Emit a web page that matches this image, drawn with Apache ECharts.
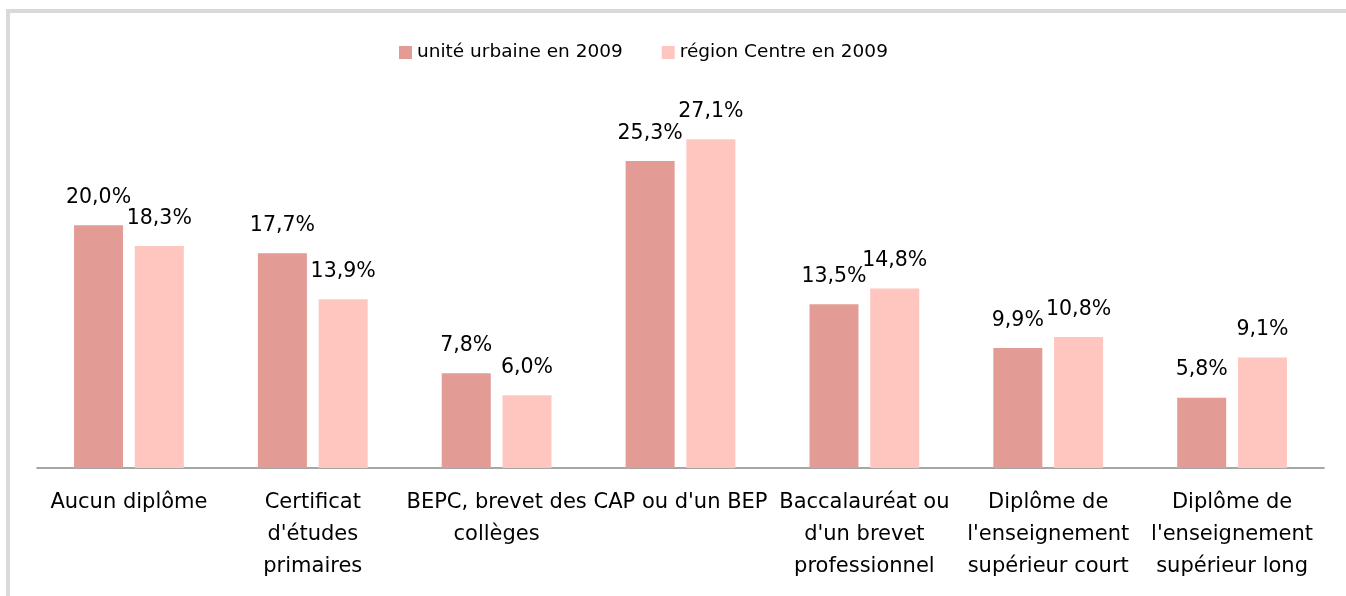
<!DOCTYPE html>
<html lang="fr">
<head>
    <meta charset="UTF-8">
    <title>Diplômes - unité urbaine / région Centre 2009</title>
    <style>
        body {
            margin: 0;
            background: #fff;
            font-family: 'DejaVu Sans', sans-serif;
        }
        #frame {
            position: absolute;
            left: 6px;
            top: 9px;
            width: 1400px;
            height: 700px;
            border-top: 4px solid #d9d9d9;
            border-left: 4px solid #d9d9d9;
        }
        #chart {
            position: absolute;
            left: 0;
            top: 0;
            width: 1346px;
            height: 596px;
        }
    </style>
    <script src="https://cdn.jsdelivr.net/npm/echarts@6/dist/echarts.min.js"></script>
</head>
<body>
<div id="frame"></div>
<div id="chart"></div>
<script>
// données
const categories = [
    'Aucun diplôme',
    'Certificat\nd\'études\nprimaires',
    'BEPC, brevet des\ncollèges',
    'CAP ou d\'un BEP',
    'Baccalauréat ou\nd\'un brevet\nprofessionnel',
    'Diplôme de\nl\'enseignement\nsupérieur court',
    'Diplôme de\nl\'enseignement\nsupérieur long'
];
const seriesNames = ['unité urbaine en 2009', 'région Centre en 2009'];
const uniteUrbaine = [20.0, 17.7, 7.8, 25.3, 13.5, 9.9, 5.8];
const regionCentre = [18.3, 13.9, 6.0, 27.1, 14.8, 10.8, 9.1];

const colors = ['#e29c95', '#ffc5bf'];
const fmt = p => p.value.toFixed(1).replace('.', ',') + '%';

const makeSeries = (name, values, color) => ({
    name: name,
    type: 'bar',
    data: values,
    barWidth: 49,
    barGap: '24%',
    itemStyle: { color: color },
    label: {
        show: true,
        position: 'top',
        distance: 17,
        formatter: fmt,
        color: '#000',
        fontSize: 20.5,
        fontFamily: 'DejaVu Sans'
    }
});

const chart = echarts.init(document.getElementById('chart'));
chart.setOption({
    animation: false,
    textStyle: { fontFamily: 'DejaVu Sans' },
    legend: {
        top: 38,
        left: 394,
        itemWidth: 13,
        itemHeight: 13,
        itemGap: 39,
        icon: 'rect',
        textStyle: { fontSize: 18.5, color: '#000' },
        data: seriesNames
    },
    grid: { left: 37, right: 22, top: 104, bottom: 128 },
    xAxis: {
        type: 'category',
        data: categories,
        axisTick: { show: false },
        axisLine: { lineStyle: { color: '#898989', width: 1.5 } },
        axisLabel: {
            interval: 0,
            margin: 19,
            color: '#000',
            fontSize: 21,
            lineHeight: 32,
            align: 'center'
        }
    },
    yAxis: {
        type: 'value',
        min: 0,
        max: 30,
        show: false,
        splitLine: { show: false }
    },
    series: [
        makeSeries(seriesNames[0], uniteUrbaine, colors[0]),
        makeSeries(seriesNames[1], regionCentre, colors[1])
    ]
});
</script>
</body>
</html>
